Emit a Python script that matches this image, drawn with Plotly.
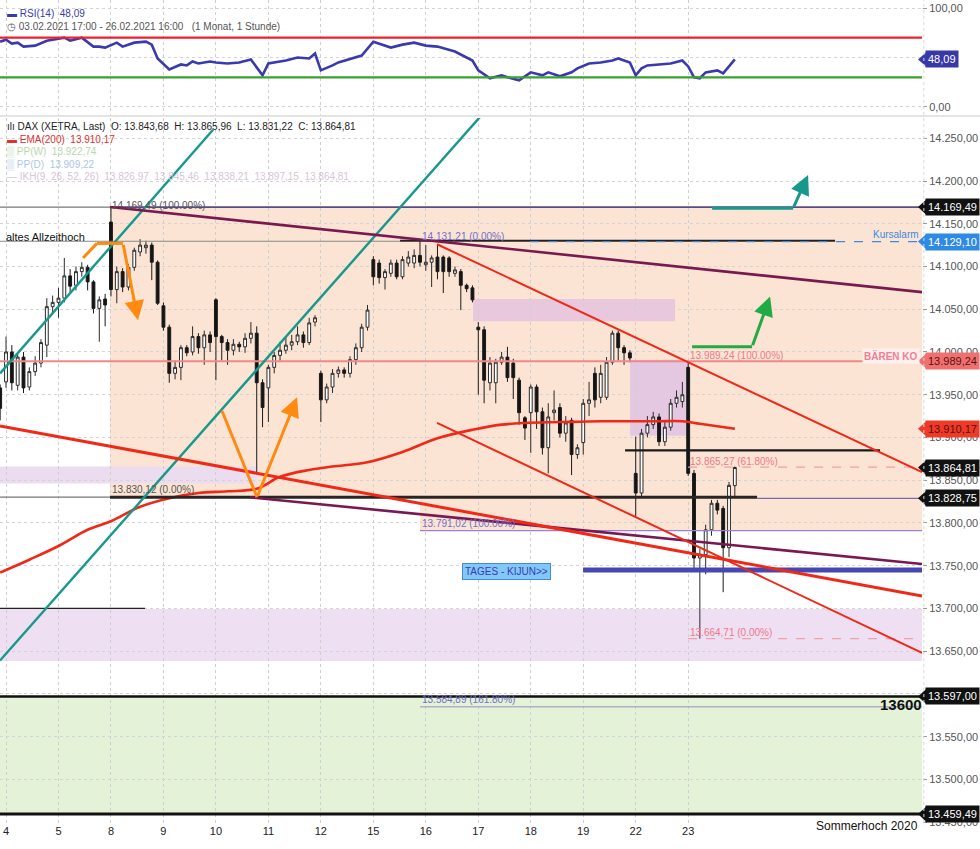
import plotly.graph_objects as go

# ---------------- data ----------------
day_labels = ["4", "5", "8", "9", "10", "11", "12", "15", "16", "17", "18", "19", "22", "23"]
bars_per_day = 9
bar_idx = list(range(-1, 126))

opens = [13958, 13965, 14000, 13961, 13994, 13959, 13977, 13987, 14008, 14053,
         14058, 14063, 14089, 14078, 14094, 14099, 14082, 14051, 14062,
         14152, 14073, 14094, 14076, 14099, 14117, 14122, 14125, 14105,
         14054, 14029, 13975, 13982, 14005, 14000, 14018, 14005, 14020,
         14061, 14018, 14011, 14002, 14009, 14006, 14016, 14022, 13964,
         13958, 13982, 13996, 14002, 14008, 14012, 14020, 14011, 14035,
         13975, 13944, 13959, 13975, 13979, 13975, 13991, 14005, 14029,
         14108, 14104, 14087, 14092, 14104, 14088, 14104, 14104, 14113,
         14102, 14105, 14111, 14111, 14110, 14092, 14094, 14078, 14075,
         14029, 14026, 13964, 13964, 13988, 13994, 13987, 13967, 13923,
         13929, 13959, 13930, 13888, 13929, 13935, 13905, 13920, 13880,
         13894, 13940, 13975, 13947, 13947, 13988, 14022, 14005, 13999,
         13858, 13835, 13905, 13915, 13924, 13895, 13912, 13940, 13942,
         13982, 13858, 13759, 13763, 13792, 13823, 13817, 13771, 13843.68]
highs = [13962, 14018, 14008, 14000, 14000, 13982, 13995, 14015, 14063, 14066,
         14075, 14110, 14097, 14100, 14105, 14102, 14084, 14065, 14068,
         14169.49, 14100, 14098, 14103, 14122, 14132, 14130, 14128, 14107,
         14058, 14032, 13990, 14008, 14008, 14030, 14022, 14025, 14024,
         14063, 14020, 14015, 14015, 14012, 14022, 14035, 14030, 13968,
         13985, 14000, 14012, 14018, 14020, 14030, 14024, 14040, 14043,
         13978, 13963, 13980, 13983, 13982, 13995, 14010, 14033, 14055,
         14112, 14108, 14097, 14108, 14108, 14112, 14118, 14120, 14131.21,
         14125, 14113, 14125, 14113, 14112, 14100, 14097, 14080, 14078,
         14035, 14030, 13994, 13992, 14000, 14006, 13992, 13970, 13925,
         13962, 13962, 13935, 13940, 13955, 13940, 13925, 13923, 13892,
         13945, 13965, 13982, 13985, 13994, 14025, 14025, 14008, 14002,
         13901, 13910, 13925, 13930, 13928, 13920, 13945, 13955, 13965,
         13989.24, 13862, 13770, 13798, 13827, 13827, 13820, 13848, 13865.96]
lows = [13920, 13958, 13955, 13955, 13952, 13955, 13972, 13982, 13994, 14045,
        14040, 14058, 14070, 14072, 14088, 14072, 14045, 14012, 14030,
        14065, 14057, 14070, 14072, 14095, 14112, 14115, 14084, 14055,
        14025, 13964, 13968, 13967, 13995, 13996, 13998, 13985, 14000,
        13967, 13990, 13985, 13996, 14000, 13999, 14010, 13857, 13912,
        13918, 13975, 13990, 13998, 14002, 14008, 14005, 14008, 14030,
        13918, 13940, 13952, 13970, 13970, 13970, 13985, 14000, 14025,
        14078, 14080, 14073, 14088, 14085, 14085, 14100, 14098, 14100,
        14095, 14076, 14085, 14069, 14088, 14088, 14049, 14070, 14058,
        13950, 13940, 13955, 13940, 13985, 13965, 13945, 13915, 13897,
        13882, 13910, 13880, 13858, 13920, 13900, 13895, 13856, 13875,
        13880, 13925, 13935, 13940, 13944, 13985, 13990, 13985, 13988,
        13807, 13830, 13900, 13910, 13890, 13890, 13908, 13935, 13935,
        13855, 13745, 13664.71, 13740, 13785, 13810, 13719, 13760, 13831.22]
closes = [13934, 14000, 13964, 13994, 13958, 13977, 13987, 14011, 14053, 14058,
          14063, 14089, 14077, 14094, 14099, 14082, 14051, 14061, 14055,
          14073, 14094, 14076, 14099, 14119, 14125, 14125, 14105, 14057,
          14029, 13975, 13982, 14005, 13999, 14018, 14005, 14020, 14011,
          14018, 14011, 14002, 14009, 14006, 14016, 14022, 13964, 13935,
          13982, 13996, 14002, 14008, 14012, 14020, 14011, 14034, 14040,
          13944, 13959, 13975, 13979, 13975, 13991, 14005, 14029, 14049,
          14088, 14087, 14094, 14104, 14088, 14108, 14111, 14113, 14105,
          14105, 14110, 14094, 14094, 14094, 14096, 14078, 14074, 14061,
          14026, 13967, 13987, 13988, 13994, 13970, 13970, 13929, 13911,
          13959, 13930, 13888, 13924, 13932, 13905, 13917, 13880, 13888,
          13940, 13944, 13944, 13975, 13988, 14022, 14005, 13999, 13993,
          13835, 13905, 13915, 13924, 13895, 13912, 13940, 13947, 13950,
          13858, 13759, 13763, 13792, 13823, 13815, 13771, 13844, 13864.81]

ema_idx = [-1, 4, 9, 14, 18, 23, 28, 33, 38, 43, 47, 52, 56, 62, 68, 74, 80, 85, 89,
           95, 102, 107, 112, 116, 119, 125]
ema_val = [13742, 13757, 13773, 13792, 13802, 13819, 13829, 13835, 13837, 13840, 13854,
           13862, 13866, 13871, 13883, 13899, 13909, 13915, 13917, 13918, 13919, 13919,
           13919, 13919, 13916, 13910.17]

rsi_idx = [-1, 0, 1, 2, 3, 5, 7, 10, 11, 13, 15, 16, 17, 19, 20, 22, 24, 25, 26, 28, 30,
           31, 32, 33, 35, 36, 38, 40, 42, 44, 45, 48, 50, 52, 53, 54, 56, 57, 61, 63, 66,
           68, 70, 72, 74, 77, 80, 81, 83, 85, 86, 88, 90, 92, 93, 95, 97, 98, 100, 102,
           104, 105, 107, 108, 109, 110, 112, 114, 116, 117, 118, 119, 120, 122, 123, 124, 125]
rsi_val = [66, 68, 64, 65, 61, 62, 67, 70, 67, 70, 61, 61, 60, 65, 61, 65, 66, 63, 49, 38,
           43, 42, 46, 44, 46, 45, 44, 45, 48, 32, 44, 47, 50, 49, 54, 37, 42, 45, 52, 66,
           60, 63, 65, 62, 61, 56, 47, 37, 29, 32, 30, 27, 35, 32, 35, 31, 35, 39, 44, 45,
           47, 49, 45, 32, 39, 42, 43, 44, 47, 41, 30, 29, 35, 37, 34, 41, 48.09]

price_ticks = [13450, 13500, 13550, 13600, 13650, 13700, 13750, 13800, 13850, 13900,
               13950, 14000, 14050, 14100, 14150, 14200, 14250]

# ---------------- helpers ----------------
X0, X1 = -1.03, 157.1
Y0, Y1 = 13449, 14273.7
PLOT_W, PLOT_H = 922, 823


def de(v):
    s = f"{v:,.2f}"
    return s.replace(",", "X").replace(".", ",").replace("X", ".")


def px2i(px):
    return (px - 6) / 5.83


def py2p(py):
    return 14000 - (py - 352) / 0.855


FONT = "Liberation Sans, Arial, sans-serif"

fig = go.Figure()

# ---------------- traces ----------------
fig.add_trace(go.Candlestick(
    x=bar_idx, open=opens, high=highs, low=lows, close=closes,
    increasing=dict(line=dict(color="#2a2a2a", width=1), fillcolor="#ffffff"),
    decreasing=dict(line=dict(color="#1a1a1a", width=1), fillcolor="#141414"),
    whiskerwidth=0, xaxis="x", yaxis="y", showlegend=False, hoverinfo="skip"))

fig.add_trace(go.Scatter(x=ema_idx, y=ema_val, mode="lines", line=dict(color="#f02818", width=2.6, shape="spline"),
                         xaxis="x", yaxis="y", showlegend=False, hoverinfo="skip"))

fig.add_trace(go.Scatter(x=rsi_idx, y=rsi_val, mode="lines", line=dict(color="#3a3ab0", width=2.6),
                         xaxis="x2", yaxis="y2", showlegend=False, hoverinfo="skip"))

shapes = []
ann = []


def hline(x0, x1, y, color, width, dash="solid", yref="y"):
    shapes.append(dict(type="line", xref="x", yref=yref, x0=x0, x1=x1, y0=y, y1=y,
                       line=dict(color=color, width=width, dash=dash), layer="above"))


def seg(x0, y0, x1, y1, color, width):
    shapes.append(dict(type="line", xref="x", yref="y", x0=x0, x1=x1, y0=y0, y1=y1,
                       line=dict(color=color, width=width), layer="above"))


def rect(x0, x1, y0, y1, color):
    shapes.append(dict(type="rect", xref="x", yref="y", x0=x0, x1=x1, y0=y0, y1=y1,
                       fillcolor=color, line=dict(width=0), layer="below"))


# background zones
rect(px2i(110), X1, 13830.12, 14169.49, "#fce4d4")
rect(px2i(420), X1, 13791.02, 14131.21, "#fce4d4")
rect(X0, X1, 13638.6, 13699.4, "#eedff3")
rect(X0, X1, 13459.49, 13597, "#e4f2d8")
rect(X0, px2i(257), 13846, 13866, "#ecdcf0")
rect(px2i(473), px2i(675), 14036, 14062, "#e9c8de")
rect(px2i(630), px2i(688), 13902, 13991, "#e4c8e2")

# horizontal levels
hline(X0, px2i(110), 14169.49, "#777777", 1.2)
hline(px2i(110), X1, 14169.49, "#5a4a8a", 1.6)
hline(X0, px2i(400), 14129.5, "#888888", 1.2)
hline(px2i(400), px2i(835), 14130, "#222222", 2)
hline(px2i(530), X1, 14129.1, "#3a8ae0", 1.4, "dash")
hline(X0, X1, 13989.24, "#f08888", 2)
hline(px2i(625), px2i(880), 13885, "#1a1a1a", 2.2)
hline(px2i(688), X1, 13865.27, "#f0a0a8", 1.2, "dash")
hline(X0, px2i(110), 13830.12, "#777777", 1.2)
hline(px2i(110), px2i(757), 13830.12, "#2a2424", 3)
hline(px2i(757), X1, 13828.75, "#7a6aa8", 1.4)
hline(px2i(420), X1, 13791.02, "#9a80d0", 1.2)
hline(px2i(583), X1, 13745, "#4646b4", 5)
hline(X0, px2i(145), 13700, "#222222", 1.2)
hline(px2i(688), X1, 13664.71, "#f0a0a8", 1.2, "dash")
hline(X0, X1, 13597, "#111111", 2.6)
hline(px2i(420), X1, 13584.89, "#9a90c0", 1)
hline(X0, X1, 13459.49, "#111111", 3)

# trend lines
seg(X0, 13975, px2i(213), 14260, "#16988a", 2.4)
seg(X0, 13639, px2i(480), 14275, "#16988a", 2.4)
seg(px2i(110), 14169.49, X1, 14070, "#7a1850", 2.6)
seg(px2i(250), 13830, X1, 13752, "#7a1850", 2.6)
seg(X0, 13913.5, X1, 13714.6, "#f02818", 3)
seg(px2i(437), 14126, X1, 13859.6, "#f02818", 2)
seg(px2i(437), 13917, X1, 13648, "#f02818", 2)

# arrows (polyline + arrowhead)
arrows = [
    ([(px2i(83), 14110), (px2i(97), 14127), (px2i(123), 14127)], (px2i(138), 14037), "#ff8a10"),
    ([(px2i(222), 13931), (px2i(257), 13830)], (px2i(297), 13947), "#ff8a10"),
    ([(px2i(692), 14006), (px2i(752), 14006)], (px2i(770), 14065), "#22aa44"),
    ([(px2i(712), 14168), (px2i(793), 14168)], (px2i(808), 14207), "#16988a"),
]
for pts, head, col in arrows:
    for a, b in zip(pts[:-1], pts[1:]):
        seg(a[0], a[1], b[0], b[1], col, 3)
    tail = pts[-1]
    ann.append(dict(x=head[0], y=head[1], ax=tail[0], ay=tail[1], xref="x", yref="y",
                    axref="x", ayref="y", showarrow=True, arrowhead=2, arrowsize=1.3,
                    arrowwidth=3, arrowcolor=col, text=""))


def txt(x, y, s, color, size=10, xanchor="left", **kw):
    ann.append(dict(x=x, y=y, xref="x", yref="y", text=s, showarrow=False, xanchor=xanchor,
                    yanchor="middle", font=dict(family=FONT, size=size, color=color), **kw))


txt(px2i(110), py2p(205), "14.169,49 (100.00%)", "#555555")
txt(px2i(4), py2p(237), "altes Allzeithoch", "#111111", 11)
txt(px2i(420), py2p(237), "14.131,21 (0.00%)", "#7070c8")
txt(px2i(688), py2p(356), "13.989,24 (100.00%)", "#f07888")
txt(px2i(688), py2p(462), "13.865,27 (61.80%)", "#f07888")
txt(px2i(110), py2p(490), "13.830,12 (0.00%)", "#555555")
txt(px2i(420), py2p(524), "13.791,02 (100.00%)", "#7070c8")
txt(px2i(688), py2p(633), "13.664,71 (0.00%)", "#f07888")
txt(px2i(420), py2p(700), "13.584,89 (161.80%)", "#7070c8")
txt(px2i(878), py2p(705), "<b>13600</b>", "#111111", 15)
txt(px2i(921), py2p(235), "Kursalarm", "#3a8ae0", 10, xanchor="right")
txt(px2i(920), py2p(356), "<b>BÄREN KO</b>", "#f08090", 10, xanchor="right", bgcolor="#fff0f0")
txt(px2i(506), py2p(572), "TAGES - KIJUN>>", "#3a3ab0", 10, xanchor="center",
    bgcolor="#80c8f8", bordercolor="#4a8ad0", borderwidth=1, borderpad=2)

ann.append(dict(x=920 / PLOT_W, y=1 - 826 / PLOT_H, xref="paper", yref="paper", text="Sommerhoch 2020",
                showarrow=False, xanchor="right", yanchor="middle",
                font=dict(family=FONT, size=12, color="#111111")))

# top-left legends
legend_lines = [
    (14, "<span style='color:#3a3ab0'>▬</span> RSI(14)  48,09", "#3a3ab0"),
    (27, "◷ 03.02.2021 17:00 - 26.02.2021 16:00   (1 Monat, 1 Stunde)", "#555555"),
    (127, "ılı DAX (XETRA, Last)  O: 13.843,68  H: 13.865,96  L: 13.831,22  C: 13.864,81", "#222222"),
    (140, "▬ EMA(200)  13.910,17", "#e03030"),
    (152, "▒ PP(W)  13.922,74", "#b6d8ae"),
    (165, "▒ PP(D)  13.909,22", "#aec6e8"),
    (177, "— IKH(9, 26, 52, 26)  13.826,97  13.845,46  13.838,21  13.897,15  13.864,81", "#d6c6d6"),
]
for ypx, s, col in legend_lines:
    ann.append(dict(x=5 / PLOT_W, y=1 - ypx / PLOT_H, xref="paper", yref="paper", text=s,
                    showarrow=False, xanchor="left", yanchor="middle",
                    font=dict(family=FONT, size=10, color=col)))

# right price tags
def tag(val, text, bg, fg, yref="y", dp=8.6):
    ann.append(dict(x=1, xshift=3, y=val, xref="paper", yref=yref, text=text, showarrow=False,
                    xanchor="left", yanchor="middle", bgcolor=bg, borderpad=2,
                    font=dict(family=FONT, size=11, color=fg)))
    shapes.append(dict(type="path", xref="paper", yref=yref,
                       path=f"M {1 + 4 / PLOT_W} {val + dp} L {1 - 4 / PLOT_W} {val} L {1 + 4 / PLOT_W} {val - dp} Z",
                       fillcolor=bg, line=dict(width=0), layer="above"))


tag(14169.49, "14.169,49", "#111111", "#ffffff")
tag(14129.10, "14.129,10", "#2f8ae6", "#ffffff")
tag(13989.24, "13.989,24", "#f07070", "#5a1010")
tag(13910.17, "13.910,17", "#f03a28", "#5a1010")
tag(13864.81, "13.864,81", "#111111", "#ffffff")
tag(13828.75, "13.828,75", "#111111", "#ffffff")
tag(13597.00, "13.597,00", "#111111", "#ffffff")
tag(13459.49, "13.459,49", "#111111", "#ffffff")
tag(48.09, "48,09", "#3838a8", "#ffffff", yref="y2", dp=7)

# RSI level lines
hline(X0, X1, 70, "#f0202a", 2.2, yref="y2")
hline(X0, X1, 30, "#3aa030", 2.2, yref="y2")

# panel separator
shapes.append(dict(type="line", xref="paper", yref="paper", x0=0, x1=980 / PLOT_W,
                   y0=1 - 116 / PLOT_H, y1=1 - 116 / PLOT_H, line=dict(color="#c8c8c8", width=1)))
shapes.append(dict(type="line", xref="paper", yref="paper", x0=1.002, x1=1.002, y0=0, y1=1,
                   line=dict(color="#d8d8d8", width=1, dash="dot")))

tickvals_x = [k * bars_per_day for k in range(len(day_labels))]

fig.update_layout(
    width=980, height=849,
    margin=dict(l=0, r=58, t=0, b=26),
    paper_bgcolor="#ffffff", plot_bgcolor="#ffffff",
    font=dict(family=FONT, size=11, color="#333333"),
    showlegend=False,
    boxgap=0.3,
    shapes=shapes, annotations=ann,
    xaxis=dict(domain=[0, 1], anchor="y", range=[X0, X1], tickvals=tickvals_x, ticktext=day_labels,
               showgrid=True, gridcolor="#cfcfcf", griddash="dot", gridwidth=1, zeroline=False,
               rangeslider=dict(visible=False), ticks="", tickfont=dict(size=11, color="#222222"),
               showline=False),
    xaxis2=dict(domain=[0, 1], anchor="y2", matches="x", range=[X0, X1], tickvals=tickvals_x,
                showticklabels=False, showgrid=True, gridcolor="#cfcfcf", griddash="dot", zeroline=False),
    yaxis=dict(domain=[0, 1 - 118 / PLOT_H], range=[Y0, Y1], side="right", tickvals=price_ticks,
               ticktext=[de(v) for v in price_ticks], showgrid=True, gridcolor="#d4d4d4",
               griddash="dot", zeroline=False, ticks="outside", ticklen=4, tickcolor="#999999",
               tickfont=dict(size=11, color="#555555")),
    yaxis2=dict(domain=[1 - 115 / PLOT_H, 1], range=[-8.1, 108.1], side="right", tickvals=[0, 50, 100],
                ticktext=["0,00", "", "100,00"], showgrid=True, gridcolor="#d4d4d4", griddash="dot",
                zeroline=False, ticks="outside", ticklen=4, tickcolor="#999999",
                tickfont=dict(size=11, color="#555555")),
)

fig.write_html("out.html", config={"displayModeBar": False},
               post_script="document.body.style.margin='0';document.body.style.overflow='hidden';")
